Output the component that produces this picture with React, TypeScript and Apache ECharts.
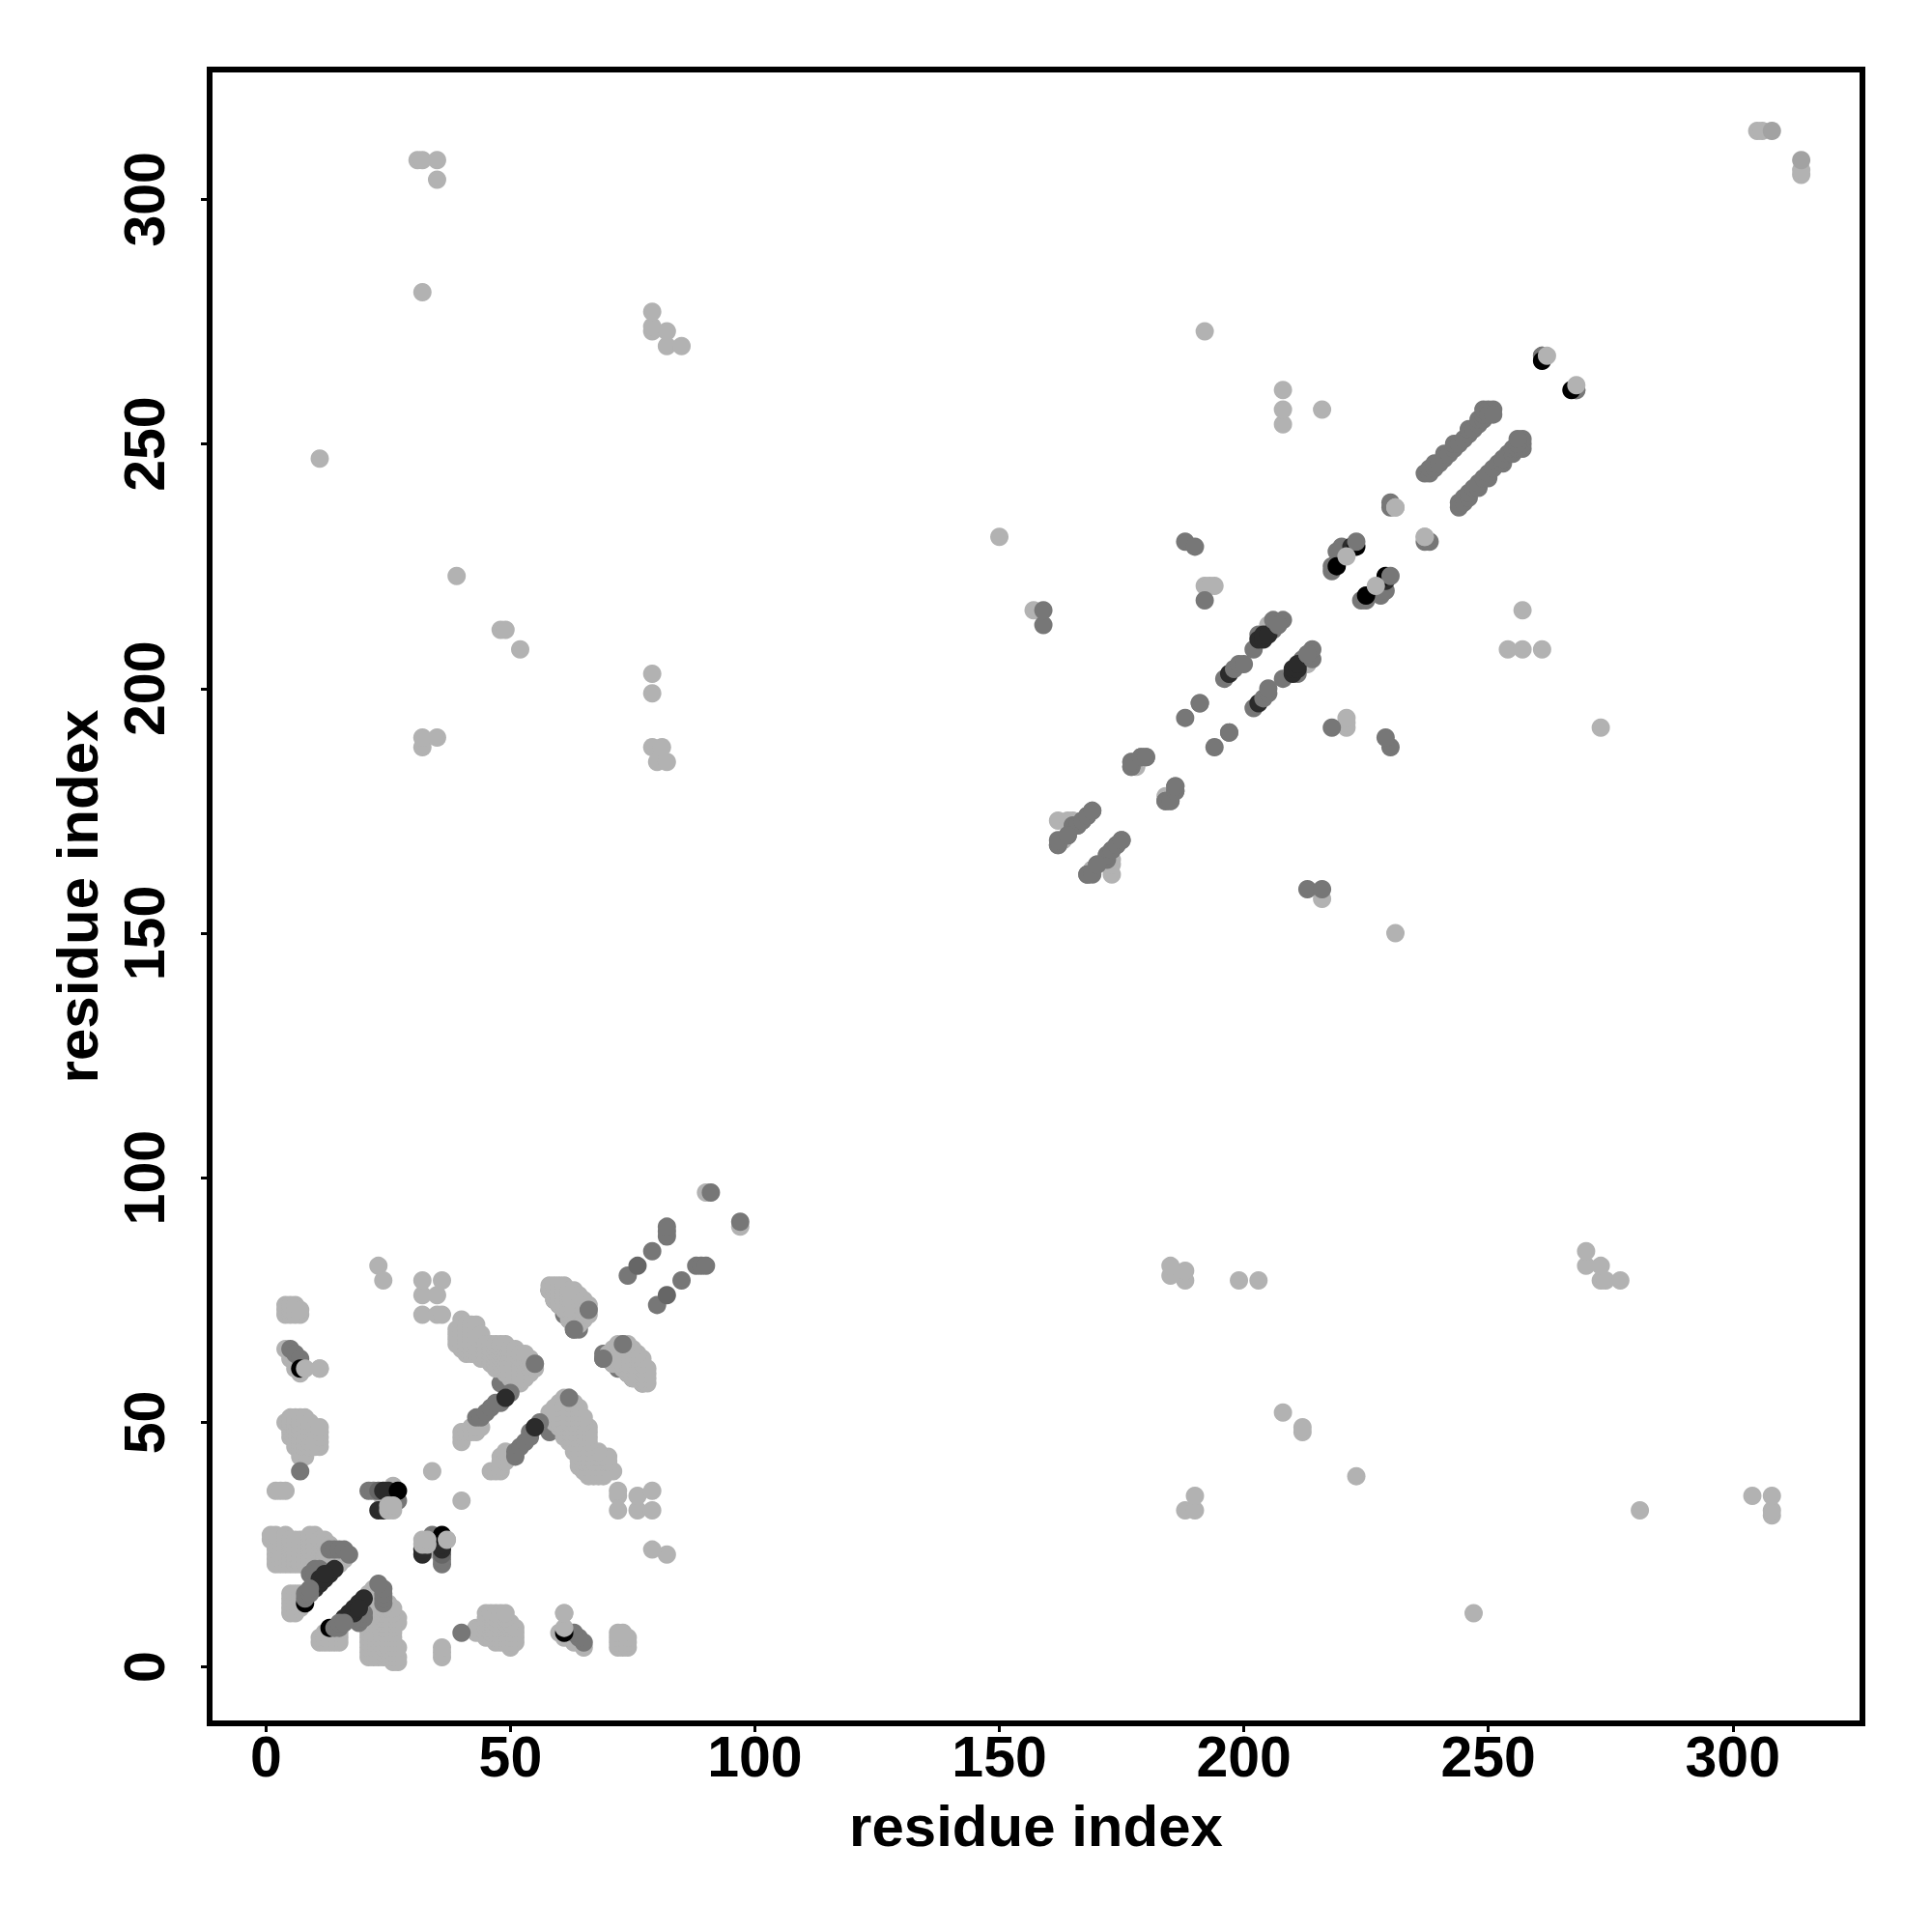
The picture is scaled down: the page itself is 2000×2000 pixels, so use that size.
import React, { useEffect, useRef } from "react";
import * as echarts from "echarts";

type Row = [number, number[]];
type Pair = [number, number];

const tickValues = [0, 50, 100, 150, 200, 250, 300];
const axisName = "residue index";

// Contacts: residue i with the residues j (i < j). The map is symmetric.
const lightRows: Row[] = [
  [1, [26, 27]],
  [2, [21, 22, 23, 24, 25, 26, 27, 36]],
  [3, [21, 22, 23, 24, 25, 26, 36]],
  [4, [21, 22, 23, 24, 25, 26, 27, 36, 50, 65, 72, 73, 74]],
  [5, [11, 12, 13, 14, 15, 21, 22, 23, 24, 25, 26, 47, 48, 49, 50, 51, 63, 72, 73, 74]],
  [6, [11, 12, 13, 14, 15, 21, 22, 23, 24, 25, 26, 45, 46, 47, 48, 49, 50, 51, 61, 62, 72, 73, 74]],
  [7, [12, 13, 14, 15, 21, 22, 23, 24, 25, 26, 43, 44, 45, 46, 47, 48, 49, 50, 51, 60, 72, 73]],
  [8, [14, 21, 22, 23, 24, 25, 26, 43, 44, 45, 46, 47, 48, 49, 50, 51]],
  [9, [21, 22, 23, 24, 25, 26, 27, 45, 46, 47, 48, 49, 50]],
  [10, [21, 22, 23, 24, 25, 26, 27, 45, 46, 47, 48, 49]],
  [11, [21, 22, 23, 24, 25, 26, 45, 46, 47, 48, 49, 247]],
  [12, [20, 21, 22, 23, 24, 25, 26]],
  [13, [20, 21, 22, 23, 24, 25]],
  [14, [21, 22, 23]],
  [15, [21, 22, 23]],
  [16, [22]],
  [23, [82]],
  [24, [33, 34, 79]],
  [25, [34]],
  [26, [34, 35, 37]],
  [31, [308]],
  [32, [72, 76, 79, 188, 190, 281, 308]],
  [34, [40]],
  [35, [72, 76, 190, 304, 308]],
  [36, [72, 79]],
  [39, [66, 67, 68, 69, 223]],
  [40, [46, 47, 48, 65, 66, 67, 68, 69, 70, 71]],
  [41, [48, 64, 65, 66, 67, 68, 69, 70]],
  [42, [48, 49, 64, 65, 66, 67, 68, 69, 70]],
  [43, [48, 49, 64, 65, 66, 67, 68, 69, 70]],
  [44, [49, 63, 64, 65, 66, 67, 68]],
  [45, [63, 64, 65, 66]],
  [46, [62, 63, 64, 65, 66]],
  [47, [61, 62, 63, 64, 65, 66]],
  [48, [61, 62, 63, 64, 65, 66, 212]],
  [49, [60, 61, 62, 63, 64, 65, 66, 212]],
  [50, [59, 60, 61, 62, 63, 64, 65]],
  [51, [58, 59, 60, 61, 62, 63, 64, 65]],
  [52, [58, 59, 60, 61, 62, 63, 64, 208]],
  [53, [59, 60, 61, 62, 63, 64]],
  [54, [60, 61, 62, 63]],
  [55, [61, 62]],
  [58, [77, 78]],
  [59, [75, 76, 77, 78]],
  [60, [74, 75, 76, 77, 78]],
  [61, [73, 74, 75, 76, 77, 78]],
  [62, [71, 72, 73, 74, 75, 76, 77]],
  [63, [70, 71, 72, 73, 74, 75, 76, 77]],
  [64, [70, 71, 72, 73, 74, 75, 76]],
  [65, [71, 72, 73, 74, 75]],
  [66, [72, 73, 74]],
  [79, [188, 199, 203, 273, 274, 277]],
  [80, [185]],
  [81, [188]],
  [82, [185, 270, 273]],
  [85, [270]],
  [90, [97]],
  [150, [231]],
  [157, [216]],
  [162, [173]],
  [163, [169]],
  [164, [173]],
  [165, [173]],
  [169, [163]],
  [172, [166]],
  [177, [185]],
  [178, [184]],
  [192, [221, 273]],
  [193, [221]],
  [194, [221]],
  [205, [213]],
  [206, [213]],
  [208, [254, 257, 261]],
  [216, [257]],
];

const midBasePairs: Pair[] = [
  [58, 77], [59, 75], [60, 74], [61, 72], [62, 71], [63, 69], [64, 69], [48, 58], [48, 54],
];

const midPairs: Pair[] = [
  [5, 65], [6, 64], [7, 63], [7, 40],
  [9, 19], [10, 19], [10, 20], [11, 20], [13, 24], [14, 24], [15, 24], [16, 24], [17, 23],
  [21, 36], [22, 36], [27, 34],
  [43, 51], [44, 51], [45, 52], [46, 53], [47, 54], [50, 56],
  [74, 80], [79, 85], [82, 88], [82, 89], [82, 90], [91, 97],
  [159, 213], [159, 216],
  [162, 168], [164, 170], [165, 172], [166, 172], [167, 173], [168, 174], [169, 175],
  [168, 162], [169, 162], [170, 164], [173, 167], [174, 168], [175, 169],
  [177, 184], [179, 186], [180, 186], [184, 177], [185, 177], [186, 179], [186, 180],
  [188, 194], [188, 230], [190, 229], [191, 197], [192, 218],
  [196, 202], [202, 208], [203, 211], [206, 212], [218, 224], [218, 225], [219, 228], [220, 229],
  [230, 237], [230, 238], [261, 268], [268, 261],
  [237, 244], [238, 244], [238, 245], [239, 245], [239, 246], [240, 246], [241, 247], [241, 248],
  [242, 248], [243, 249], [243, 250], [244, 250], [245, 251], [246, 252], [246, 253], [247, 253],
  [248, 254], [248, 255], [249, 255], [249, 256], [249, 257],
  [250, 257], [251, 257], [250, 256], [251, 256],
];

const slatePairs: Pair[] = [[23, 36], [76, 82]];

const darkPairs: Pair[] = [
  [10, 16], [11, 17], [12, 18], [13, 19], [14, 20], [11, 18], [12, 19],
  [23, 32], [24, 32], [24, 36], [25, 36], [49, 55], [197, 203], [203, 210], [204, 210], [204, 211],
  [205, 211], [222, 229],
];

const blackPairs: Pair[] = [
  [7, 61], [8, 13], [27, 36], [219, 225], [223, 229], [261, 267],
];

const midTopPairs: Pair[] = [
  [8, 14], [8, 15], [9, 15], [9, 16],
  [198, 204], [199, 205], [200, 205], [206, 214], [208, 214], [207, 213], [223, 230],
  [66, 73], [63, 69], [55, 62], [213, 207], [197, 191],
];

const shadePairs: Pair[] = [[308, 314]];

const lightTopPairs: Pair[] = [
  [8, 61], [11, 61], [61, 11], [231, 237], [237, 231], [262, 268], [221, 227], [305, 314], [306, 314],
  [25, 32], [26, 32], [25, 33], [26, 33],
];

// Drawn on one side of the diagonal only, in front of the dark points there.
const lightFrontPoints: Pair[] = [[37, 26]];

const LIGHT = "#b2b2b2";
const MID = "#777777";
const SLATE = "#666666";
const DARK = "#2b2b2b";
const BLACK = "#000000";
const SHADE = "#a2a2a2";

const fromRows = (rows: Row[]): Pair[] =>
  rows.flatMap(([i, js]) => js.map((j): Pair => [i, j]));

const both = (pairs: Pair[]): number[][] =>
  pairs.flatMap(([i, j]) => [[i, j], [j, i]]);

const layerOf = (name: string, data: number[][], color: string, z: number) => ({
  name,
  type: "scatter",
  data,
  symbol: "circle",
  symbolSize: 19,
  itemStyle: { color, opacity: 1 },
  z,
  clip: false,
  silent: true,
});

const layer = (name: string, pairs: Pair[], color: string, z: number) =>
  layerOf(name, both(pairs), color, z);

const FONT = '"Liberation Sans", Arial, sans-serif';

const axisBase = (nameGap: number) => ({
  type: "value" as const,
  min: -11.52,
  max: 326.52,
  name: axisName,
  nameLocation: "middle" as const,
  nameGap,
  nameMoveOverlap: false,
  nameTextStyle: { fontFamily: FONT, fontWeight: "bold" as const, fontSize: 60, color: "#000" },
  splitLine: { show: false },
  axisLine: { show: false, onZero: false },
  axisTick: { show: true, length: 9, lineStyle: { color: "#000", width: 3 }, customValues: tickValues },
});

export default function App() {
  const ref = useRef<HTMLDivElement>(null);
  useEffect(() => {
    document.body.style.margin = "0";
    const chart = echarts.init(ref.current!, null, { renderer: "svg" });
    chart.setOption({
      animation: false,
      backgroundColor: "#fff",
      grid: {
        show: true,
        left: 217,
        top: 72,
        width: 1711,
        height: 1712,
        borderColor: "#000",
        borderWidth: 6,
        backgroundColor: "transparent",
        containLabel: false,
      },
      xAxis: {
        ...axisBase(76),
        axisLabel: {
          margin: 5,
          fontFamily: FONT,
          fontWeight: "bold",
          fontSize: 59,
          color: "#000",
          customValues: tickValues,
        },
      },
      yAxis: {
        ...axisBase(107),
        axisLabel: {
          margin: 67,
          rotate: 90,
          align: "center",
          verticalAlign: "middle",
          fontFamily: FONT,
          fontWeight: "bold",
          fontSize: 59,
          color: "#000",
          customValues: tickValues,
        },
      },
      series: [
        layer("midBase", midBasePairs, MID, 1),
        layer("light", fromRows(lightRows), LIGHT, 2),
        layer("mid", midPairs, MID, 3),
        layer("slate", slatePairs, SLATE, 4),
        layer("dark", darkPairs, DARK, 5),
        layer("black", blackPairs, BLACK, 6),
        layer("midTop", midTopPairs, MID, 7),
        layer("lightTop", lightTopPairs, LIGHT, 7),
        layer("shade", shadePairs, SHADE, 8),
        layerOf("lightFront", lightFrontPoints, LIGHT, 8),
      ],
    });
    return () => chart.dispose();
  }, []);
  return <div ref={ref} style={{ width: 2000, height: 2000, position: "absolute", left: 0, top: 0 }} />;
}
